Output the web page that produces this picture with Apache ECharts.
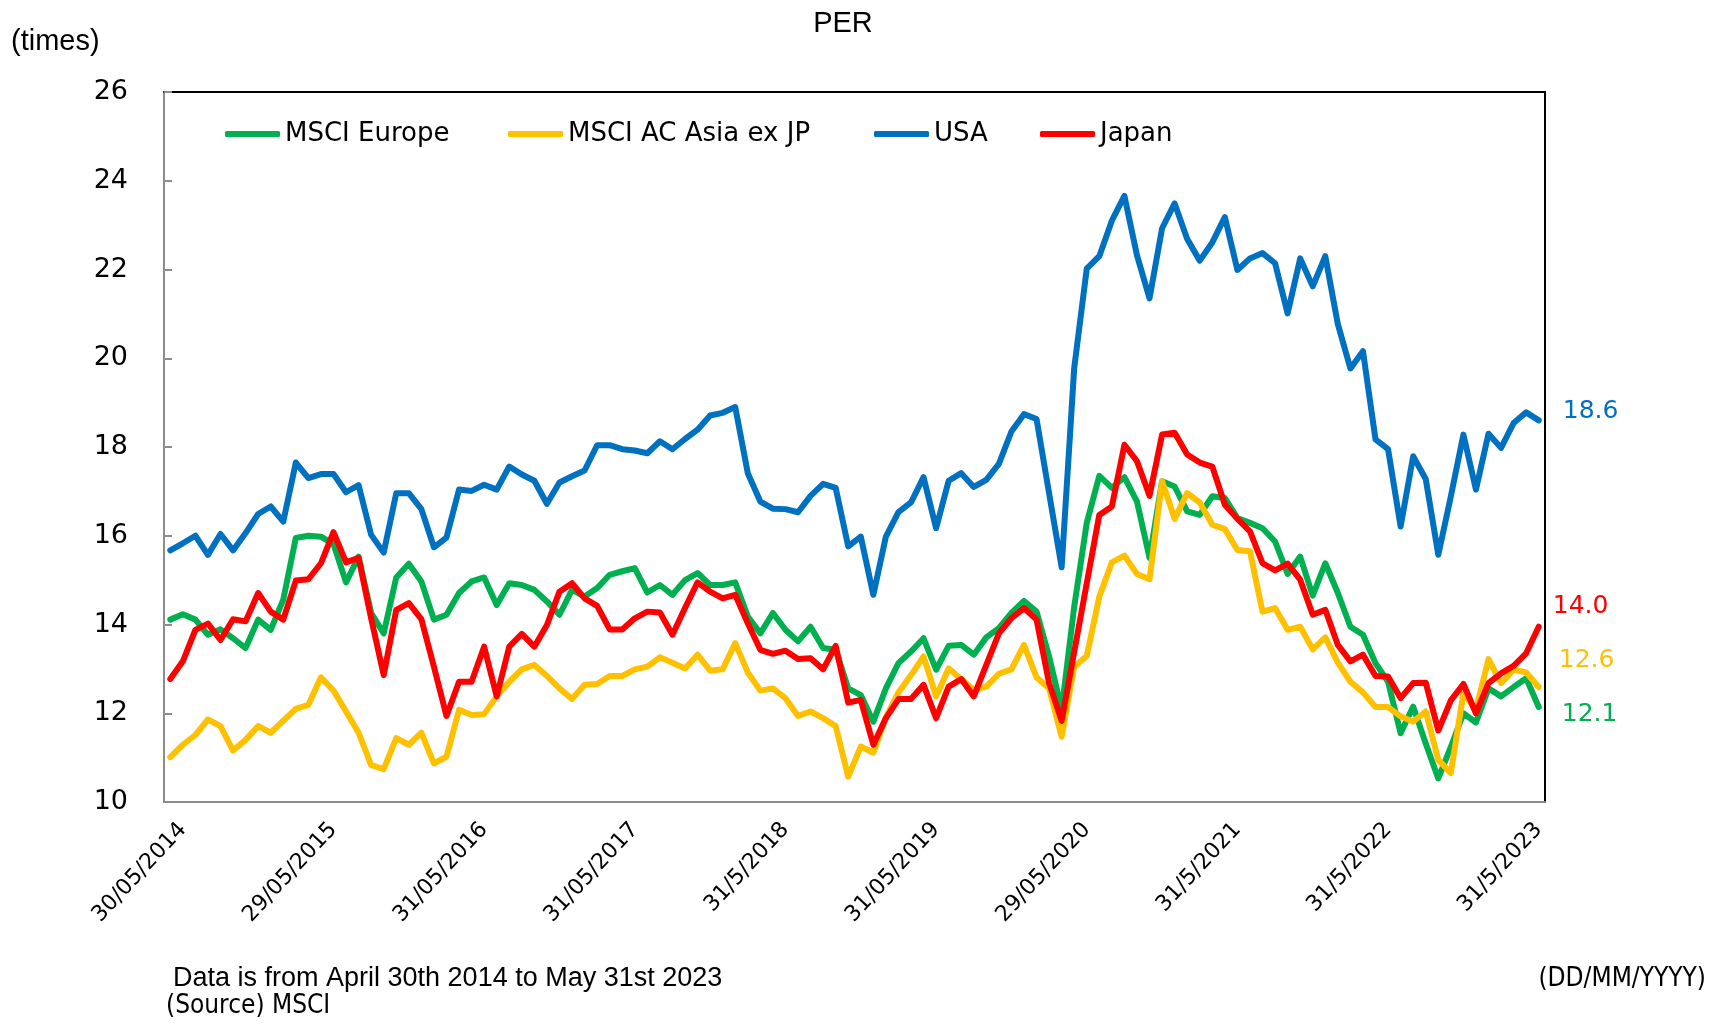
<!DOCTYPE html>
<html>
<head>
<meta charset="utf-8">
<title>PER</title>
<script src="https://cdn.jsdelivr.net/npm/echarts@6/dist/echarts.min.js"></script>
<style>
  html, body { margin: 0; padding: 0; background: #fff; }
  #chart { width: 1724px; height: 1024px; }
</style>
</head>
<body>
<div id="chart"></div>
<script>
// Monthly PER, April 2014 .. May 2023 (110 months)
const seriesNames = ['MSCI Europe', 'MSCI AC Asia ex JP', 'USA', 'Japan'];
const seriesColors = ['#00B050', '#FFC000', '#0070C0', '#FF0000'];

const xTickLabels = ['30/05/2014', '29/05/2015', '31/05/2016', '31/05/2017', '31/5/2018',
                     '31/05/2019', '29/05/2020', '31/5/2021', '31/5/2022', '31/5/2023'];

const europe = [
  14.11, 14.23, 14.11, 13.77, 13.89, 13.69, 13.47, 14.11, 13.88, 14.56,
  15.95, 16.00, 15.98, 15.81, 14.95, 15.53, 14.26, 13.80, 15.06, 15.37,
  14.97, 14.11, 14.22, 14.71, 14.97, 15.06, 14.44, 14.93, 14.89, 14.78,
  14.52, 14.22, 14.78, 14.63, 14.82, 15.12, 15.20, 15.27, 14.72, 14.89,
  14.67, 15.00, 15.16, 14.89, 14.89, 14.95, 14.18, 13.80, 14.26, 13.88,
  13.62, 13.95, 13.47, 13.43, 12.56, 12.41, 11.81, 12.56, 13.13, 13.39,
  13.69, 12.98, 13.52, 13.54, 13.32, 13.71, 13.92, 14.26, 14.53, 14.29,
  13.28, 12.08, 14.40, 16.29, 17.35, 17.08, 17.32, 16.77, 15.50, 17.23,
  17.11, 16.55, 16.47, 16.89, 16.85, 16.40, 16.29, 16.17, 15.87, 15.14,
  15.53, 14.65, 15.38, 14.71, 13.95, 13.77, 13.13, 12.71, 11.55, 12.15,
  11.32, 10.53, 11.24, 12.00, 11.79, 12.56, 12.38, 12.59, 12.79, 12.14
];

const asiaExJp = [
  11.01, 11.29, 11.51, 11.86, 11.71, 11.16, 11.40, 11.71, 11.56, 11.83,
  12.10, 12.19, 12.81, 12.51, 12.04, 11.56, 10.83, 10.74, 11.44, 11.29,
  11.56, 10.87, 11.02, 12.08, 11.96, 11.98, 12.38, 12.71, 12.99, 13.09,
  12.84, 12.56, 12.32, 12.64, 12.66, 12.84, 12.84, 12.99, 13.05, 13.26,
  13.14, 13.01, 13.32, 12.96, 12.99, 13.58, 12.92, 12.51, 12.56, 12.34,
  11.94, 12.04, 11.89, 11.71, 10.57, 11.25, 11.11, 11.91, 12.47, 12.86,
  13.28, 12.38, 13.01, 12.77, 12.53, 12.60, 12.89, 12.99, 13.54, 12.81,
  12.56, 11.47, 13.05, 13.29, 14.63, 15.40, 15.55, 15.14, 15.02, 17.23,
  16.38, 16.96, 16.75, 16.25, 16.15, 15.68, 15.65, 14.29, 14.37, 13.88,
  13.95, 13.44, 13.71, 13.14, 12.71, 12.47, 12.14, 12.14, 11.93, 11.81,
  12.04, 10.95, 10.65, 12.45, 12.08, 13.22, 12.68, 12.98, 12.92, 12.59
];

const usa = [
  15.67, 15.83, 16.00, 15.57, 16.04, 15.67, 16.06, 16.49, 16.66, 16.32,
  17.65, 17.30, 17.39, 17.39, 16.98, 17.14, 16.02, 15.62, 16.96, 16.96,
  16.60, 15.74, 15.96, 17.04, 17.01, 17.15, 17.04, 17.56, 17.38, 17.24,
  16.72, 17.20, 17.34, 17.47, 18.04, 18.04, 17.95, 17.92, 17.86, 18.13,
  17.95, 18.18, 18.39, 18.71, 18.77, 18.90, 17.41, 16.77, 16.61, 16.60,
  16.53, 16.90, 17.17, 17.08, 15.76, 15.98, 14.67, 15.98, 16.53, 16.75,
  17.32, 16.17, 17.24, 17.41, 17.10, 17.26, 17.62, 18.35, 18.74, 18.63,
  16.96, 15.29, 19.78, 22.02, 22.30, 23.10, 23.66, 22.32, 21.35, 22.93,
  23.49, 22.69, 22.20, 22.61, 23.18, 21.99, 22.25, 22.37, 22.14, 21.01,
  22.25, 21.62, 22.30, 20.77, 19.77, 20.16, 18.17, 17.95, 16.21, 17.79,
  17.28, 15.57, 16.89, 18.28, 17.04, 18.30, 17.98, 18.54, 18.78, 18.60
];

const japan = [
  12.77, 13.17, 13.88, 14.02, 13.65, 14.12, 14.07, 14.71, 14.29, 14.11,
  14.99, 15.02, 15.38, 16.08, 15.40, 15.50, 14.14, 12.86, 14.33, 14.48,
  14.12, 13.05, 11.94, 12.71, 12.71, 13.50, 12.38, 13.50, 13.79, 13.50,
  13.99, 14.74, 14.93, 14.59, 14.42, 13.89, 13.89, 14.14, 14.29, 14.27,
  13.77, 14.37, 14.95, 14.74, 14.59, 14.67, 14.03, 13.43, 13.34, 13.41,
  13.22, 13.24, 12.99, 13.52, 12.24, 12.30, 11.29, 11.89, 12.32, 12.32,
  12.64, 11.89, 12.60, 12.77, 12.38, 13.09, 13.80, 14.14, 14.37, 14.11,
  12.68, 11.83, 13.38, 14.93, 16.47, 16.66, 18.05, 17.68, 16.90, 18.28,
  18.32, 17.83, 17.65, 17.56, 16.70, 16.38, 16.10, 15.38, 15.22, 15.37,
  15.01, 14.22, 14.33, 13.54, 13.17, 13.32, 12.84, 12.83, 12.34, 12.68,
  12.69, 11.61, 12.29, 12.66, 12.00, 12.68, 12.90, 13.07, 13.35, 13.95
];

// latest values printed to the right of the plot
const endValues = ['12.1', '12.6', '18.6', '14.0'];

// month keys Apr 2014 .. May 2023
const months = [];
for (let y = 2014, m = 4; months.length < 110; m++) {
  if (m > 12) { m = 1; y++; }
  months.push(y + '-' + String(m).padStart(2, '0'));
}

const seriesData = [europe, asiaExJp, usa, japan];
const endOffsets = [[23, 7], [20, -27], [24, -9], [14, -20]];
const legendLeft = [225, 508, 874, 1040];

const font = "'DejaVu Sans', Verdana, sans-serif";
const arial = "'Liberation Sans', Arial, sans-serif";
const narrow = "'DejaVu Sans Condensed', 'Liberation Sans Narrow', sans-serif";

const chart = echarts.init(document.getElementById('chart'), null, { renderer: 'canvas' });

const option = {
  animation: false,
  backgroundColor: '#fff',
  title: {
    text: 'PER',
    left: 838,
    textAlign: 'center',
    top: 4,
    textStyle: { fontFamily: arial, fontSize: 29, fontWeight: 'normal', color: '#000' }
  },
  legend: seriesNames.map((name, i) => ({
    data: [name],
    left: legendLeft[i],
    top: 121,
    padding: 0,
    icon: 'roundRect',
    itemWidth: 55,
    itemHeight: 6,
    textStyle: { fontFamily: font, fontSize: 26, color: '#000' }
  })),
  grid: { left: 164, right: 179, top: 92, bottom: 222 },
  xAxis: [{
    type: 'category',
    data: months,
    boundaryGap: true,
    axisLine: { lineStyle: { color: '#8c8c8c', width: 2 } },
    axisTick: {
      inside: true, length: 8,
      interval: (idx) => idx % 12 === 2,
      lineStyle: { color: '#8c8c8c', width: 2 }
    },
    axisLabel: {
      interval: (idx) => idx % 12 === 1,
      formatter: (val, idx) => xTickLabels[(idx - 1) / 12] || '',
      rotate: 47,
      margin: 24,
      fontFamily: font,
      fontSize: 22,
      color: '#000'
    },
    splitLine: { show: false }
  }, {
    type: 'category',
    data: months,
    position: 'top',
    axisLine: { lineStyle: { color: '#000', width: 2 } },
    axisTick: { show: false },
    axisLabel: { show: false }
  }],
  yAxis: [{
    type: 'value',
    min: 10, max: 26, interval: 2,
    axisLine: { show: true, lineStyle: { color: '#8c8c8c', width: 2 } },
    axisTick: { show: true, inside: true, length: 8, lineStyle: { color: '#8c8c8c', width: 2 } },
    axisLabel: { margin: 36, fontFamily: font, fontSize: 27, color: '#000' },
    splitLine: { show: false }
  }, {
    type: 'value',
    min: 10, max: 26, interval: 2,
    position: 'right',
    axisLine: { show: true, lineStyle: { color: '#000', width: 2 } },
    axisTick: { show: false },
    axisLabel: { show: false },
    splitLine: { show: false }
  }],
  series: seriesNames.map((name, i) => ({
    name: name,
    type: 'line',
    data: seriesData[i],
    showSymbol: false,
    symbol: 'none',
    color: seriesColors[i],
    lineStyle: { width: 6, color: seriesColors[i], cap: 'round', join: 'round' },
    endLabel: {
      show: true,
      formatter: () => endValues[i],
      distance: 0,
      offset: endOffsets[i],
      align: 'left',
      verticalAlign: 'middle',
      fontFamily: font,
      fontSize: 25,
      color: seriesColors[i]
    },
    emphasis: { disabled: true }
  })),
  graphic: [
    { type: 'text', left: 11, top: 27,
      style: { text: '(times)', font: '29px ' + arial, fill: '#000' } },
    { type: 'text', left: 173, top: 965,
      style: { text: 'Data is from April 30th 2014 to May 31st 2023', font: '27px ' + arial, fill: '#000' } },
    { type: 'text', left: 166, top: 993,
      style: { text: '(Source) MSCI', font: '26px ' + narrow, fill: '#000' } },
    { type: 'text', right: 18, top: 966,
      style: { text: '(DD/MM/YYYY)', font: '26px ' + narrow, fill: '#000' } }
  ]
};

chart.setOption(option);
</script>
</body>
</html>
